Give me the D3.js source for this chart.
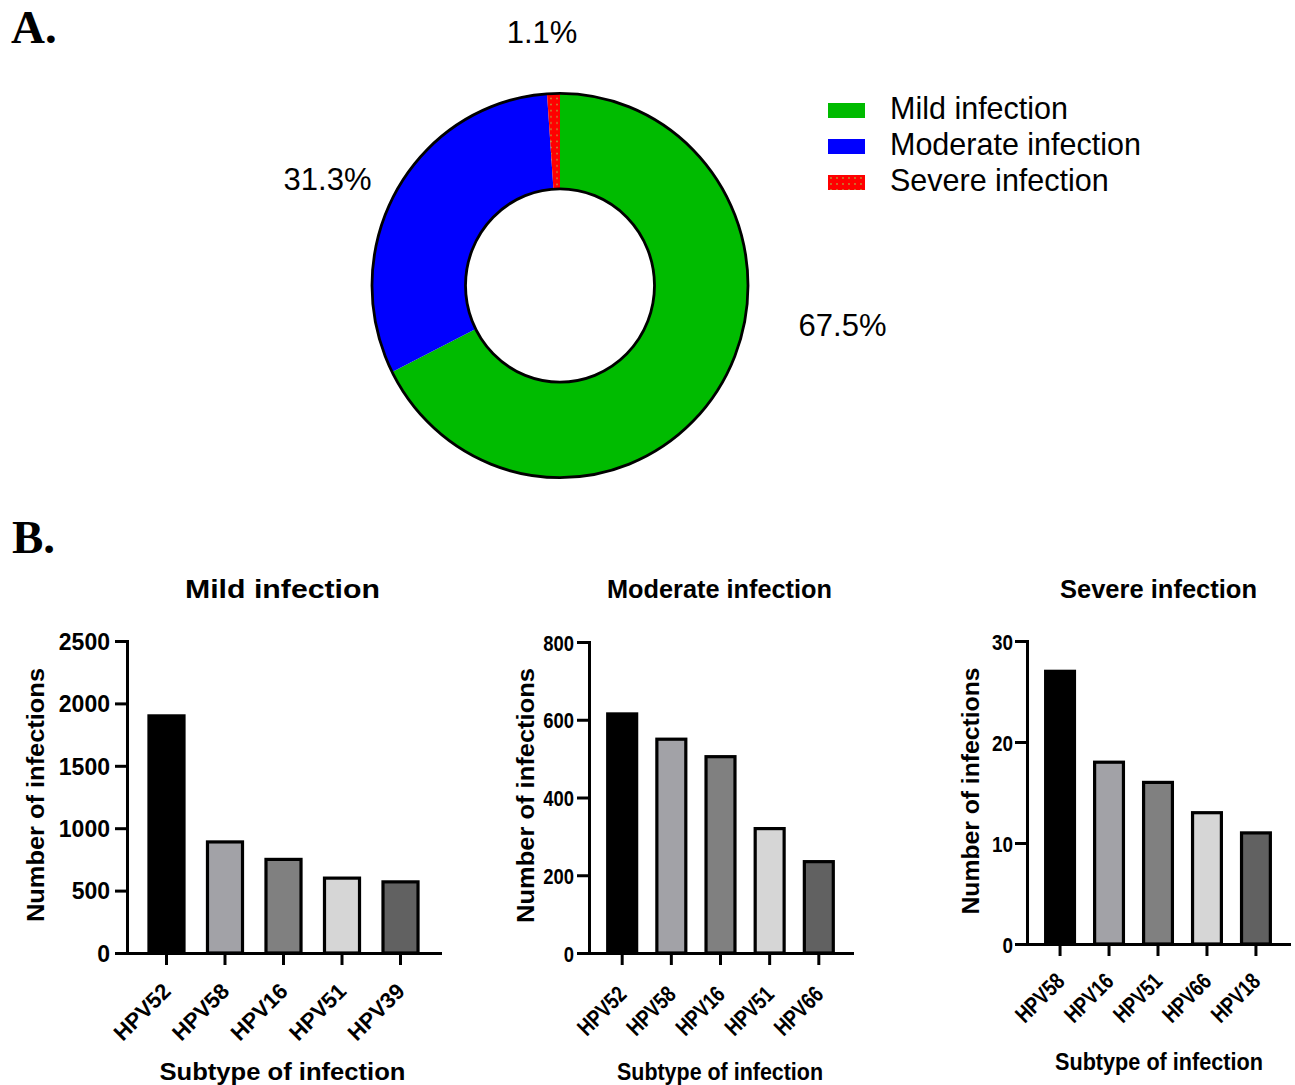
<!DOCTYPE html>
<html>
<head>
<meta charset="utf-8">
<script src="https://cdn.jsdelivr.net/npm/d3@7"></script>
<style>
  html, body { margin: 0; padding: 0; background: #fff; }
  svg { display: block; }
  text { font-family: "Liberation Sans", Arial, sans-serif; fill: #000; }
</style>
</head>
<body>
<svg id="fig" width="1295" height="1085"></svg>
<script>
// ---- Panel A: share of infection severity ----
const severityLabels = ["Mild infection", "Moderate infection", "Severe infection"];
const severityShares = [67.5, 31.3, 1.1];

// ---- Panel B: top subtypes per severity group ----
const mildSubtypes = ["HPV52", "HPV58", "HPV16", "HPV51", "HPV39"];
const mildCounts = [1900, 890, 750, 600, 570];
const mildTicks = [0, 500, 1000, 1500, 2000, 2500];

const moderateSubtypes = ["HPV52", "HPV58", "HPV16", "HPV51", "HPV66"];
const moderateCounts = [615, 550, 505, 320, 235];
const moderateTicks = [0, 200, 400, 600, 800];

const severeSubtypes = ["HPV58", "HPV16", "HPV51", "HPV66", "HPV18"];
const severeCounts = [27, 18, 16, 13, 11];
const severeTicks = [0, 10, 20, 30];

const barFills = ["#000000", "#a2a2a7", "#808080", "#d6d6d6", "#616161"];

const svg = d3.select("#fig");

// dotted red fill for the severe slice
const defs = svg.append("defs");
const pat = defs.append("pattern").attr("id", "dots")
  .attr("patternUnits", "userSpaceOnUse").attr("width", 6).attr("height", 6);
pat.append("rect").attr("width", 6).attr("height", 6).attr("fill", "#ff0000");
pat.append("circle").attr("cx", 3).attr("cy", 3).attr("r", 0.9).attr("fill", "#b89a3a");

const sliceFills = ["#00bb00", "#0000ff", "url(#dots)"];

// panel letters
svg.append("text").attr("x", 11).attr("y", 43)
  .style("font-family", "'Liberation Serif', 'Times New Roman', serif")
  .style("font-weight", "bold").style("font-size", "47px").text("A.");
svg.append("text").attr("x", 12).attr("y", 553)
  .style("font-family", "'Liberation Serif', 'Times New Roman', serif")
  .style("font-weight", "bold").style("font-size", "47px").text("B.");

// ---- donut ----
const donut = { cx: 560, cy: 285.5, rOut: 188, rIn: 94.5, sy: 1.022 };
const pie = d3.pie().sort(null).value(d => d)(severityShares);
const arc = d3.arc().innerRadius(donut.rIn).outerRadius(donut.rOut);
const gD = svg.append("g")
  .attr("transform", `translate(${donut.cx},${donut.cy}) scale(1,${donut.sy})`);
gD.selectAll("path.slice").data(pie).join("path")
  .attr("class", "slice")
  .attr("d", arc)
  .attr("fill", (d, i) => sliceFills[i]);
[donut.rOut, donut.rIn].forEach(r => {
  gD.append("circle").attr("r", r).attr("fill", "none")
    .attr("stroke", "#000").attr("stroke-width", 2.8);
});

// percentage labels, placed relative to the donut centre
const labelOffsets = [[282.5, 50.5], [-232.5, -95.5], [-18, -242.5]];
svg.selectAll("text.pct").data(pie).join("text")
  .attr("class", "pct")
  .attr("x", (d, i) => donut.cx + labelOffsets[i][0])
  .attr("y", (d, i) => donut.cy + labelOffsets[i][1])
  .attr("text-anchor", "middle")
  .style("font-size", "31px")
  .text(d => d.data.toFixed(1) + "%");

// legend
const legend = svg.append("g").attr("transform", "translate(828,103)");
severityLabels.forEach((lab, i) => {
  const g = legend.append("g").attr("transform", `translate(0,${i * 36})`);
  g.append("rect").attr("width", 37).attr("height", 15).attr("fill", sliceFills[i]);
  g.append("text").attr("x", 62).attr("y", 16).style("font-size", "30.5px").text(lab);
});

// ---- bar panels ----
function barPanel(cfg) {
  const y = d3.scaleLinear().domain([0, cfg.ticks[cfg.ticks.length - 1]])
    .range([cfg.yBot, cfg.yTop]);
  const x = d3.scaleBand().domain(cfg.cats).range([cfg.x0, cfg.x1])
    .paddingInner(0.35).paddingOuter(0.35);
  const g = svg.append("g");

  g.selectAll("rect.bar").data(cfg.values).join("rect")
    .attr("class", "bar")
    .attr("x", (d, i) => x(cfg.cats[i]) + 1.5)
    .attr("width", x.bandwidth() - 3)
    .attr("y", d => y(d))
    .attr("height", d => cfg.yBot - y(d))
    .attr("fill", (d, i) => barFills[i])
    .attr("stroke", "#000").attr("stroke-width", 3.2);

  // y axis
  const ya = g.append("g").attr("transform", `translate(${cfg.x0},0)`)
    .call(d3.axisLeft(y).tickValues(cfg.ticks).tickSize(12).tickSizeOuter(0)
      .tickFormat(d3.format("d")));
  ya.select(".domain").attr("stroke-width", 3).attr("stroke-linecap", "square");
  ya.selectAll(".tick line").attr("stroke-width", 3);
  ya.selectAll(".tick text")
    .attr("x", 0).attr("dy", "0.36em")
    .attr("transform", `translate(${-12 - cfg.tickPad},0) scale(${cfg.tickSx},1)`)
    .style("font-family", "'Liberation Sans', Arial, sans-serif")
    .style("font-weight", "bold").style("font-size", cfg.tickFont + "px")
    .attr("fill", "#000");

  // x axis
  const xa = g.append("g").attr("transform", `translate(0,${cfg.yBot})`)
    .call(d3.axisBottom(x).tickSize(12).tickSizeOuter(0));
  xa.select(".domain").attr("stroke-width", 3).attr("stroke-linecap", "square");
  xa.selectAll(".tick line").attr("stroke-width", 3);
  xa.selectAll(".tick text")
    .attr("x", 0).attr("y", 0).attr("dy", "0.36em")
    .attr("text-anchor", "end")
    .attr("transform", `translate(0,${cfg.labOff}) rotate(-45) scale(${cfg.labSx},1)`)
    .style("font-family", "'Liberation Sans', Arial, sans-serif")
    .style("font-weight", "bold").style("font-size", cfg.labFont + "px")
    .attr("fill", "#000");

  // titles
  g.append("text").attr("x", cfg.title.x).attr("y", 598)
    .attr("text-anchor", "middle")
    .attr("textLength", cfg.title.w).attr("lengthAdjust", "spacingAndGlyphs")
    .style("font-weight", "bold").style("font-size", "26.5px").text(cfg.title.text);
  g.append("text")
    .attr("transform", `translate(${cfg.ytitle.x},${cfg.ytitle.y}) rotate(-90)`)
    .attr("text-anchor", "middle").attr("dy", "0.36em")
    .attr("textLength", cfg.ytitle.w).attr("lengthAdjust", "spacingAndGlyphs")
    .style("font-weight", "bold").style("font-size", "24.5px").text("Number of infections");
  g.append("text").attr("x", cfg.xtitle.x).attr("y", cfg.xtitle.y)
    .attr("text-anchor", "middle")
    .attr("textLength", cfg.xtitle.w).attr("lengthAdjust", "spacingAndGlyphs")
    .style("font-weight", "bold").style("font-size", "24.5px").text("Subtype of infection");
}

barPanel({
  cats: mildSubtypes, values: mildCounts, ticks: mildTicks,
  x0: 127, x1: 440, yTop: 641, yBot: 953,
  tickPad: 5, tickFont: 23, tickSx: 1, labOff: 34, labFont: 22, labSx: 1,
  title: { text: "Mild infection", x: 282.5, w: 195 },
  ytitle: { x: 35, y: 795, w: 254 },
  xtitle: { x: 282.5, y: 1080, w: 246 }
});
barPanel({
  cats: moderateSubtypes, values: moderateCounts, ticks: moderateTicks,
  x0: 589, x1: 852, yTop: 642, yBot: 953,
  tickPad: 3, tickFont: 22.5, tickSx: 0.82, labOff: 37, labFont: 23, labSx: 0.8,
  title: { text: "Moderate infection", x: 719.5, w: 225 },
  ytitle: { x: 525, y: 795.5, w: 255 },
  xtitle: { x: 720, y: 1080, w: 206 }
});
barPanel({
  cats: severeSubtypes, values: severeCounts, ticks: severeTicks,
  x0: 1027, x1: 1289, yTop: 641, yBot: 944,
  tickPad: 2, tickFont: 22.5, tickSx: 0.84, labOff: 33, labFont: 23, labSx: 0.8,
  title: { text: "Severe infection", x: 1158.5, w: 197 },
  ytitle: { x: 970, y: 791, w: 247 },
  xtitle: { x: 1159, y: 1070, w: 208 }
});
</script>
</body>
</html>
